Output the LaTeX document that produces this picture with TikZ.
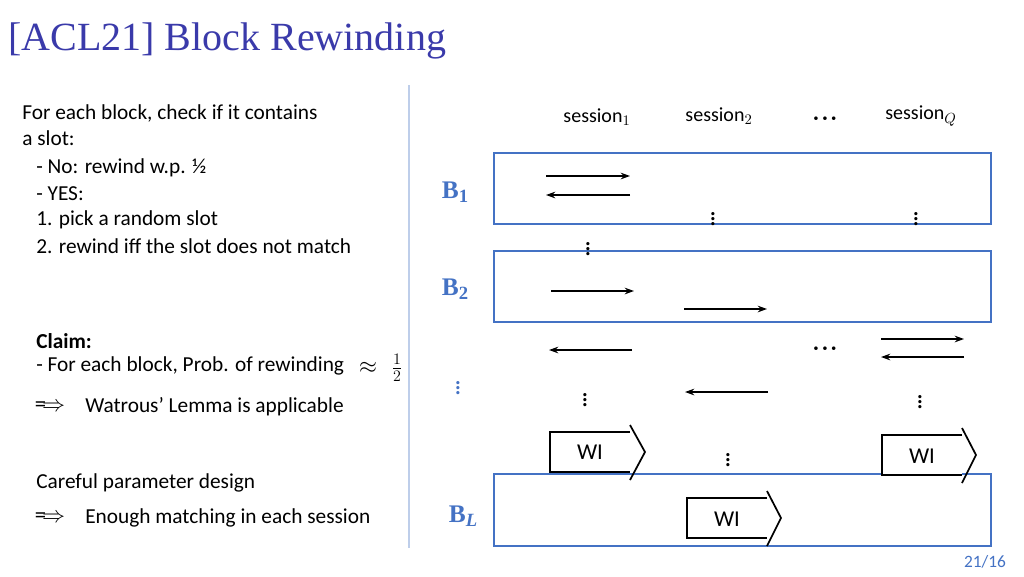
\documentclass[tikz,border=0pt]{standalone}
\usepackage{amsmath}
\usepackage{fontspec}
\setmainfont{Carlito}
\newfontfamily\titlefont{Liberation Serif}
\usetikzlibrary{arrows.meta}
\definecolor{tblue}{RGB}{58,58,170}
\definecolor{bblue}{RGB}{68,114,196}
\begin{document}
\begin{tikzpicture}[x=0.75pt,y=-0.75pt,
  txt/.style={anchor=west,inner sep=0,font=\fontsize{16}{17}\selectfont},
  blk/.style={draw=bblue,line width=1.5pt},
  blab/.style={text=bblue,font=\titlefont\bfseries\fontsize{19}{20}\selectfont,inner sep=0},
  arr/.style={-{Stealth[length=7pt,width=5pt]},line width=1.1pt},
  vd/.style={inner sep=0,font=\fontsize{20}{20}\selectfont},
  wi/.style={line width=1.3pt}]
\useasboundingbox (0,0) rectangle (1024,576);
\node[anchor=base west,inner sep=0,text=tblue,font=\titlefont\fontsize{30}{30}\selectfont] (title) at (8,50) {[ACL21] Block Rewinding};
\draw[draw=bblue!35,line width=1pt] (409,85) -- (409,548);
% left text
\node[txt] (t1) at (22,113) {For each block, check if it contains};
\node[txt] (t2) at (22,138) {a slot:};
\node[txt] (t3) at (36,168) {- No: rewind w.p. ½};
\node[txt] (t4) at (36,194) {- YES:};
\node[txt] (t5) at (36,220) {1. pick a random slot};
\node[txt] (t6) at (36,246) {2. rewind iff the slot does not match};
\node[txt,font=\bfseries\fontsize{16}{17}\selectfont] (t7) at (36,341) {Claim:};
\node[txt] (t8) at (36,366) {- For each block, Prob. of rewinding};
\node[inner sep=0,font=\fontsize{17}{17}\selectfont] (ap) at (368,368) {$\approx$};
\node[inner sep=0,font=\fontsize{17}{17}\selectfont] (hf) at (397,368) {$\frac{1}{2}$};
\node[inner sep=0,font=\fontsize{17}{17}\selectfont] (im1) at (50,407) {$\Longrightarrow$};
\node[txt] (t9) at (85,407) {Watrous’ Lemma is applicable};
\node[txt] (t10) at (36,483) {Careful parameter design};
\node[inner sep=0,font=\fontsize{17}{17}\selectfont] (im2) at (50,518) {$\Longrightarrow$};
\node[txt] (t11) at (85,518) {Enough matching in each session};
\node[inner sep=0,text=bblue,font=\fontsize{13}{13}\selectfont] (pg) at (985,562) {21/16};
% sessions
\node[inner sep=0,font=\fontsize{15}{16}\selectfont] (s1) at (597,117) {session$_1$};
\node[inner sep=0,font=\fontsize{15}{16}\selectfont] (s2) at (719,116) {session$_2$};
\node[inner sep=0,font=\fontsize{16}{16}\selectfont] (sd) at (825,119) {$\boldsymbol{\cdot\!\cdot\!\cdot}$};
\node[inner sep=0,font=\fontsize{15}{16}\selectfont] (sq) at (921,116) {session$_Q$};
% blocks
\draw[blk] (494,153) rectangle (991,224);
\draw[blk] (494,251) rectangle (991,322);
\draw[blk] (494,474) rectangle (991,546);
\node[blab] (b1) at (455,192) {B\raisebox{-0.3ex}{\fontsize{14}{14}\selectfont 1}};
\node[blab] (b2) at (455,289) {B\raisebox{-0.3ex}{\fontsize{14}{14}\selectfont 2}};
\node[blab] (bl) at (463,516) {B\raisebox{-0.3ex}{\fontsize{14}{14}\selectfont\itshape L}};
\node[vd,text=bblue] (bd) at (458,384) {$\boldsymbol{\vdots}$};
% arrows
\coordinate (a1s) at (546,176); \coordinate (a1e) at (630,176);
\coordinate (a2s) at (630,195); \coordinate (a2e) at (546,195);
\draw[arr] (a1s) -- (a1e); \draw[arr] (a2s) -- (a2e);
\node[vd] (d1) at (713,215) {$\boldsymbol{\vdots}$};
\node[vd] (d2) at (916,215) {$\boldsymbol{\vdots}$};
\node[vd] (d3) at (588,245) {$\boldsymbol{\vdots}$};
\coordinate (a3s) at (551,291); \coordinate (a3e) at (634,291);
\coordinate (a4s) at (684,309); \coordinate (a4e) at (767,309);
\draw[arr] (a3s) -- (a3e); \draw[arr] (a4s) -- (a4e);
\coordinate (a5s) at (632,350); \coordinate (a5e) at (549,350);
\draw[arr] (a5s) -- (a5e);
\node[inner sep=0,font=\fontsize{16}{16}\selectfont] (hd) at (825,349) {$\boldsymbol{\cdot\!\cdot\!\cdot}$};
\coordinate (a6s) at (881,339); \coordinate (a6e) at (964,339);
\coordinate (a7s) at (964,357); \coordinate (a7e) at (881,357);
\draw[arr] (a6s) -- (a6e); \draw[arr] (a7s) -- (a7e);
\node[vd] (d4) at (585,396) {$\boldsymbol{\vdots}$};
\coordinate (a8s) at (768,392); \coordinate (a8e) at (685,392);
\draw[arr] (a8s) -- (a8e);
\node[vd] (d5) at (920,398) {$\boldsymbol{\vdots}$};
\node[vd] (d6) at (728,456) {$\boldsymbol{\vdots}$};
% WI arrows
\fill[white] (550,432) rectangle (630,472);
\draw[wi] (630,432) -- (550,432) -- (550,472) -- (630,472);
\draw[wi] (630,425) -- (645,452) -- (630,480);
\node[inner sep=0,font=\fontsize{17}{17}\selectfont] (w1) at (590,452) {WI};
\fill[white] (882,435) rectangle (962,475);
\draw[wi] (962,435) -- (882,435) -- (882,475) -- (962,475);
\draw[wi] (962,428) -- (976,455) -- (962,483);
\node[inner sep=0,font=\fontsize{17}{17}\selectfont] (w2) at (922,456) {WI};
\fill[white] (687,498) rectangle (767,538);
\draw[wi] (767,498) -- (687,498) -- (687,538) -- (767,538);
\draw[wi] (767,491) -- (781,518) -- (767,546);
\node[inner sep=0,font=\fontsize{17}{17}\selectfont] (w3) at (727,519) {WI};
\end{tikzpicture}
\end{document}
